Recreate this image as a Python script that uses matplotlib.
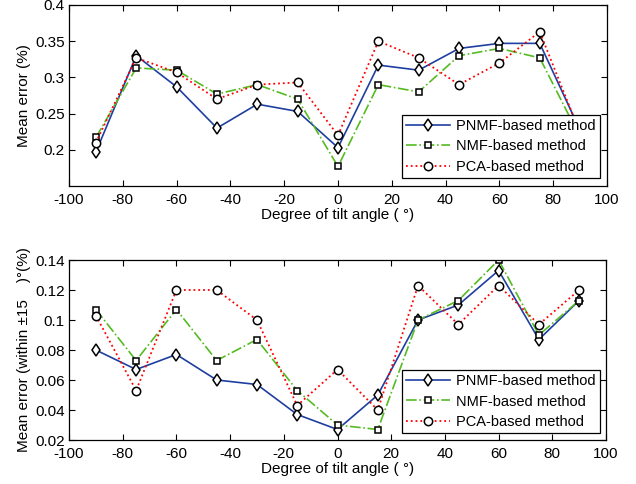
import matplotlib
matplotlib.use("Agg")
import matplotlib.pyplot as plt

plt.rcParams['font.family'] = ['Liberation Sans', 'DejaVu Sans']
plt.rcParams['axes.unicode_minus'] = False

angles = [-90, -75, -60, -45, -30, -15, 0, 15, 30, 45, 60, 75, 90]

top_pnmf = [0.197, 0.330, 0.287, 0.230, 0.263, 0.253, 0.203, 0.317, 0.310, 0.340, 0.347, 0.347, 0.227]
top_nmf = [0.217, 0.313, 0.310, 0.277, 0.290, 0.270, 0.177, 0.290, 0.280, 0.330, 0.340, 0.327, 0.217]
top_pca = [0.210, 0.327, 0.307, 0.270, 0.290, 0.293, 0.220, 0.350, 0.327, 0.290, 0.320, 0.363, 0.223]

bot_pnmf = [0.080, 0.067, 0.077, 0.060, 0.057, 0.037, 0.027, 0.050, 0.100, 0.110, 0.133, 0.087, 0.113]
bot_nmf = [0.107, 0.073, 0.107, 0.073, 0.087, 0.053, 0.030, 0.027, 0.100, 0.113, 0.140, 0.090, 0.113]
bot_pca = [0.103, 0.053, 0.120, 0.120, 0.100, 0.043, 0.067, 0.040, 0.123, 0.097, 0.123, 0.097, 0.120]

labels = ["PNMF-based method", "NMF-based method", "PCA-based method"]

W, H = 636, 484
fig = plt.figure(figsize=(W / 100, H / 100), dpi=100)

def axes_px(l, t, r, b):
    return fig.add_axes([l / W, 1 - b / H, (r - l) / W, (b - t) / H])

ax1 = axes_px(69, 5, 607, 186)
ax2 = axes_px(69, 260, 606, 440)

fs = 11

def draw(ax, pnmf, nmf, pca, ylim, yticks, yticklabels, ylabel, leg_bbox):
    ax.plot(angles, pnmf, '-', color='#1f3fa0', lw=1.2, marker='d', ms=6.5,
            mfc='white', mec='black', mew=1.1, label=labels[0])
    ax.plot(angles, nmf, '-.', color='#55bb22', lw=1.2, marker='s', ms=5,
            mfc='white', mec='black', mew=1.1, label=labels[1])
    ax.plot(angles, pca, ':', color='#ff0000', lw=1.3, marker='o', ms=6,
            mfc='white', mec='black', mew=1.1, label=labels[2])
    ax.set_xlim(-100, 100)
    ax.set_ylim(*ylim)
    ax.set_xticks(range(-100, 101, 20))
    ax.set_yticks(yticks)
    ax.set_yticklabels(yticklabels)
    ax.tick_params(direction='in', top=True, right=True, labelsize=fs, length=4, width=0.8, pad=3)
    ax.tick_params(axis='x', pad=5)
    for s in ax.spines.values():
        s.set_linewidth(0.9)
    ax.set_xlabel("Degree of tilt angle ( °)", fontsize=fs, labelpad=1)
    ax.set_ylabel(ylabel, fontsize=fs, labelpad=3)
    leg = ax.legend(loc='upper left', bbox_to_anchor=leg_bbox, bbox_transform=fig.transFigure,
                    fontsize=10.5, frameon=True, fancybox=False, edgecolor='black',
                    framealpha=1, borderpad=0.3, labelspacing=0.42, handlelength=3.0,
                    handletextpad=0.4, borderaxespad=0)
    leg.get_frame().set_linewidth(0.9)
    leg.set_zorder(10)

draw(ax1, top_pnmf, top_nmf, top_pca, (0.15, 0.4),
     [0.2, 0.25, 0.3, 0.35, 0.4], ["0.2", "0.25", "0.3", "0.35", "0.4"],
     "Mean error (%)", (402 / W, 1 - 115 / H))
draw(ax2, bot_pnmf, bot_nmf, bot_pca, (0.02, 0.14),
     [0.02, 0.04, 0.06, 0.08, 0.1, 0.12, 0.14],
     ["0.02", "0.04", "0.06", "0.08", "0.1", "0.12", "0.14"],
     "Mean error (within ±15    )°(%)", (402 / W, 1 - 370 / H))

fig.savefig("out.png", dpi=100)
